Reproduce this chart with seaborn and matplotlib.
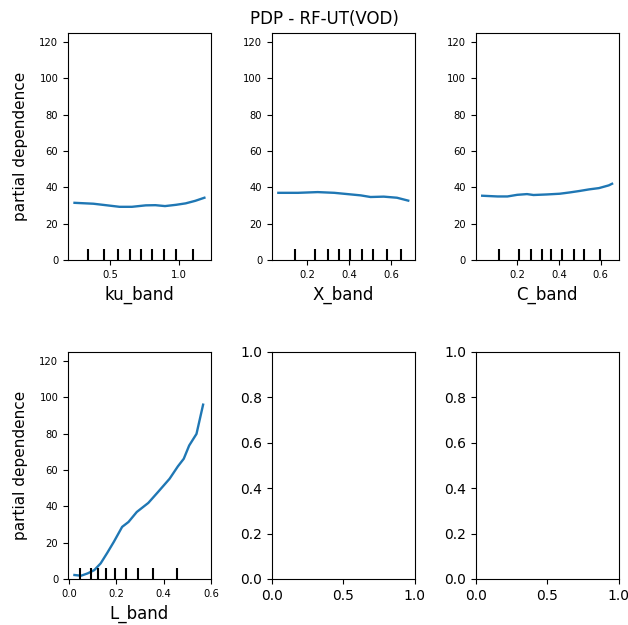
import numpy as np
import pandas as pd
import matplotlib
matplotlib.use("Agg")
import matplotlib.pyplot as plt
import matplotlib.transforms as mtransforms
import seaborn as sns

title = "PDP - RF-UT(VOD)"
ylabel = "partial dependence"

ku_x = [0.243, 0.38, 0.47, 0.57, 0.66, 0.76, 0.83, 0.90, 0.98, 1.05, 1.12, 1.186]
ku_y = [31.5, 31.0, 30.2, 29.3, 29.3, 30.1, 30.2, 29.7, 30.4, 31.2, 32.6, 34.3]
ku_dec = [0.341, 0.459, 0.562, 0.645, 0.726, 0.807, 0.895, 0.983, 1.102]

x_x = [0.062, 0.156, 0.25, 0.329, 0.392, 0.455, 0.502, 0.565, 0.628, 0.682]
x_y = [37.0, 37.0, 37.4, 37.0, 36.3, 35.6, 34.7, 34.9, 34.3, 32.7]
x_dec = [0.140, 0.238, 0.298, 0.353, 0.405, 0.460, 0.515, 0.581, 0.649]

c_x = [0.032, 0.106, 0.153, 0.2, 0.247, 0.278, 0.341, 0.404, 0.451, 0.498, 0.545, 0.592, 0.639, 0.655]
c_y = [35.4, 35.0, 35.0, 35.9, 36.3, 35.8, 36.1, 36.5, 37.2, 38.0, 38.9, 39.6, 41.1, 42.0]
c_dec = [0.111, 0.208, 0.266, 0.318, 0.363, 0.413, 0.470, 0.520, 0.595]

l_x = [0.022, 0.05, 0.078, 0.106, 0.133, 0.161, 0.189, 0.224, 0.251, 0.286, 0.335, 0.376,
       0.425, 0.460, 0.485, 0.508, 0.539, 0.567]
l_y = [2.2, 1.8, 3.1, 4.9, 8.6, 14.4, 20.5, 28.7, 31.4, 36.9, 41.9, 47.9,
       55.2, 62.0, 66.2, 73.5, 79.9, 96.0]
l_dec = [0.046, 0.092, 0.122, 0.157, 0.193, 0.239, 0.292, 0.356, 0.457]

features = ["ku_band", "X_band", "C_band", "L_band"]
xs = [ku_x, x_x, c_x, l_x]
ys = [ku_y, x_y, c_y, l_y]
decs = [ku_dec, x_dec, c_dec, l_dec]

fig, axes = plt.subplots(2, 3, figsize=(6.28, 6.25), dpi=100)
fig.subplots_adjust(left=0.1083, right=0.985, top=0.9472, bottom=0.0736,
                    wspace=0.4266, hspace=0.405)

axlist = axes.ravel()
for i, feat in enumerate(features):
    ax = axlist[i]
    df = pd.DataFrame({"x": xs[i], "y": ys[i]})
    sns.lineplot(data=df, x="x", y="y", ax=ax, color="#1f77b4", linewidth=1.7)
    trans = mtransforms.blended_transform_factory(ax.transData, ax.transAxes)
    ax.vlines(decs[i], 0, 0.05, transform=trans, color="k", linewidth=1.5)
    ax.set_ylim(0, 125)
    ax.set_yticks([0, 20, 40, 60, 80, 100, 120])
    ax.set_xlabel(feat, fontsize=12)
    ax.tick_params(labelsize=7.2)
    if i in (0, 3):
        ax.set_ylabel(ylabel, fontsize=11, labelpad=8)
    else:
        ax.set_ylabel("")

axlist[3].set_xticks([0.0, 0.2, 0.4, 0.6])

fig.text(324.5 / 628, 1 - 19 / 625, title, ha="center", va="center", fontsize=12)

fig.savefig("out.png", dpi=100)
